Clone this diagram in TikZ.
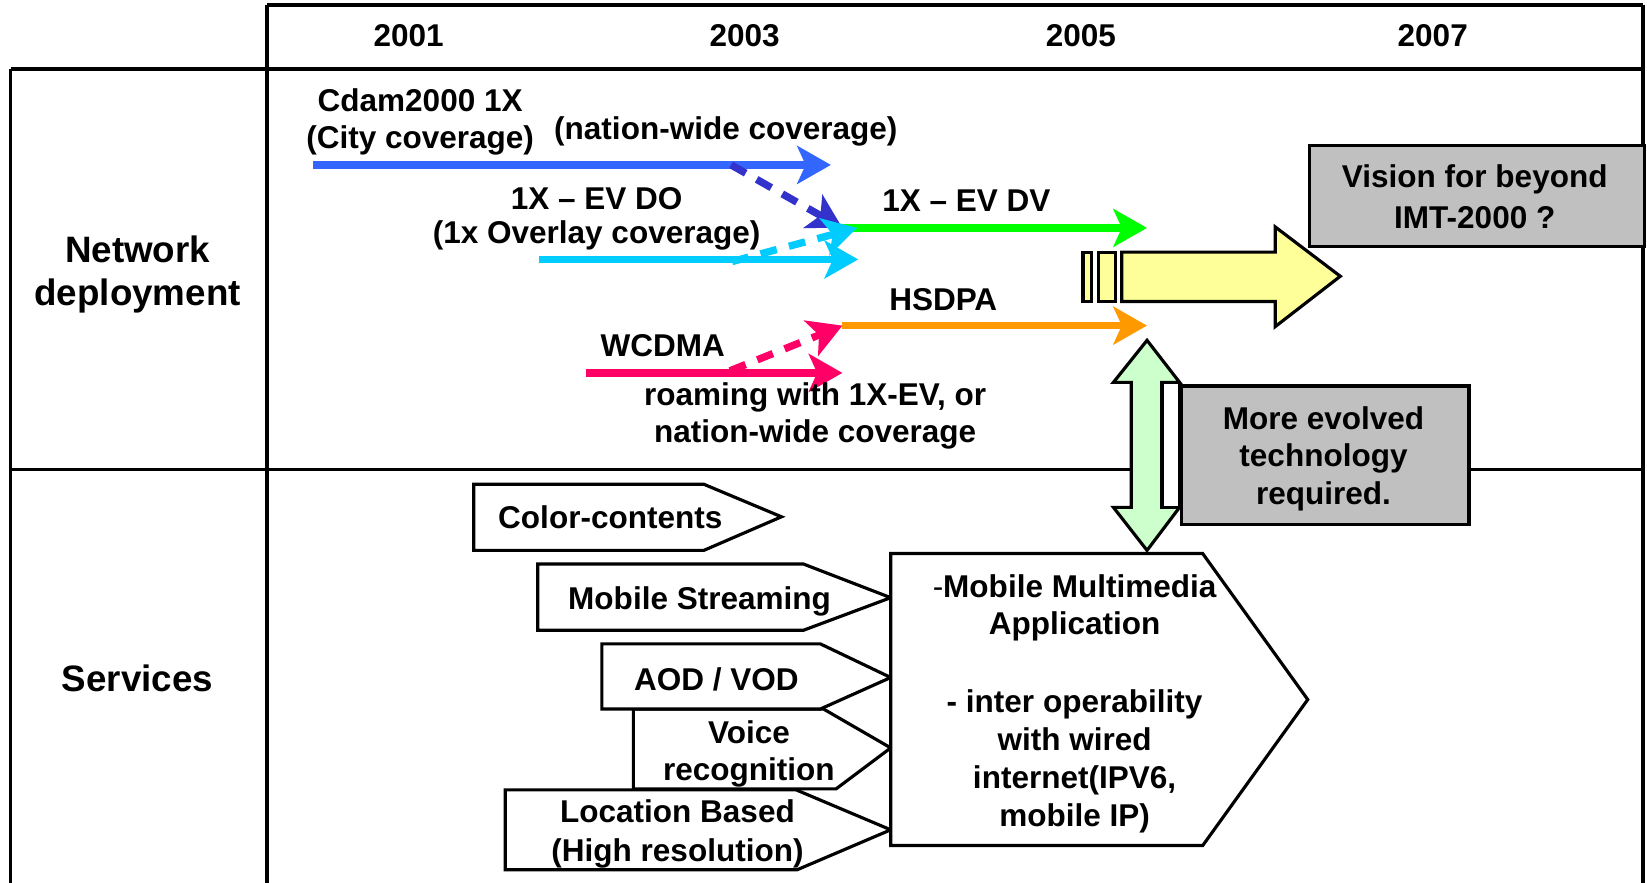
\documentclass[tikz,border=0pt]{standalone}
\usepackage{fontspec}
\setmainfont{Liberation Sans}
\usetikzlibrary{arrows.meta}
\definecolor{cblue}{HTML}{3366FF}
\definecolor{cdblue}{HTML}{3333CC}
\definecolor{ccyan}{HTML}{00CCFF}
\definecolor{cgreen}{HTML}{00FF00}
\definecolor{corange}{HTML}{FF9900}
\definecolor{cpink}{HTML}{FF0066}
\definecolor{cyellow}{HTML}{FFFF99}
\definecolor{cmint}{HTML}{CCFFCC}
\definecolor{cgray}{HTML}{C0C0C0}
\tikzset{
  lbl/.style={font=\fontsize{30}{35}\selectfont\bfseries, align=center, inner sep=0pt, anchor=base},
  hdr/.style={font=\fontsize{35}{41}\selectfont\bfseries, align=center, inner sep=0pt, anchor=base},
  grid/.style={line width=3.5pt, black},
  trk/.style={line width=7pt, -{Stealth[length=32pt,width=36pt,inset=8pt]}},
  dsh/.style={trk, dash pattern=on 16pt off 12pt},
  box/.style={draw=black, line width=3pt, line join=miter},
}
\begin{document}
\begin{tikzpicture}[x=1pt,y=-1pt]
\useasboundingbox (0,0) rectangle (1568,840);

% ---- table frame ----
\draw[grid] (254,5) -- (1564,5);
\draw[grid] (10,66) -- (1564,66);
\draw[grid] (10,447) -- (1564,447);
\draw[grid] (10,66) -- (10,842);
\draw[grid] (254,5) -- (254,842);
\draw[grid] (1564,5) -- (1564,842);

% ---- header and row titles (multi-line nodes sit on their last baseline) ----
\node[lbl] (y2001) at (389,44.5) {2001};
\node[lbl] (y2003) at (709,44.5) {2003};
\node[lbl] (y2005) at (1029,44.5) {2005};
\node[lbl] (y2007) at (1364,44.5) {2007};
\node[hdr] (rownet) at (131,290.5) {Network\\deployment};
\node[hdr] (rowsvc) at (131,658.5) {Services};

% ---- network deployment tracks ----
\coordinate (cdmaS) at (298,157);  \coordinate (cdmaE) at (791,157);
\coordinate (cdmaB) at (696,157);
\coordinate (dvS)   at (802,217);  \coordinate (dvE)   at (1092,217);
\coordinate (doS)   at (513,247);  \coordinate (doE)   at (817,247);
\coordinate (doB)   at (697,249);  \coordinate (dvIn)  at (816,217);
\coordinate (hsS)   at (802,310);  \coordinate (hsE)   at (1092,310);
\coordinate (wcS)   at (558,355);  \coordinate (wcE)   at (802,355);
\coordinate (wcB)   at (695,353);

\draw[trk, cblue] (cdmaS) -- (cdmaE);
\draw[trk, ccyan] (doS) -- (doE);
\draw[trk, cpink] (wcS) -- (wcE);
\draw[trk, cgreen] (dvS) -- (dvE);
\draw[trk, corange] (hsS) -- (hsE);
\draw[dsh, cdblue] (cdmaB) -- (dvS);
\draw[dsh, ccyan] (doB) -- (dvIn);
\draw[dsh, cpink] (wcB) -- (hsS);

\node[lbl] (tcdma) at (400,141.5) {Cdam2000 1X\\(City coverage)};
\node[lbl] (tnation) at (691,132.5) {(nation-wide coverage)};
\node[lbl, font=\fontsize{30}{32}\selectfont\bfseries] (tdo) at (568,231.5) {1X – EV DO\\(1x Overlay coverage)};
\node[lbl] (tdv) at (920,201.5) {1X – EV DV};
\node[lbl] (ths) at (898,295.5) {HSDPA};
\node[lbl] (twc) at (631,339.5) {WCDMA};
\node[lbl] (troam) at (776,421.5) {roaming with 1X-EV, or\\nation-wide coverage};

% ---- evolution arrow ----
\draw[box, fill=cyellow] (1031,240) rectangle (1039,287);
\draw[box, fill=cyellow] (1046,240) rectangle (1062,287);
\draw[box, fill=cyellow] (1068,240) -- (1214,240) -- (1214,216) -- (1276,263)
  -- (1214,311) -- (1214,287) -- (1068,287) -- cycle;

\node[box, fill=cgray, minimum width=319pt, minimum height=96pt, anchor=north west, inner sep=0pt]
  (vision) at (1245,137) {};
\node[lbl] (tvision) at (1404,217.5) {Vision for beyond\\[4pt]IMT-2000 ?};

% ---- double arrow and requirement box ----
\draw[box, fill=cmint] (1092,324) -- (1123,364) -- (1106,364) -- (1106,483) -- (1123,483)
  -- (1092,524) -- (1060,483) -- (1077,483) -- (1077,364) -- (1060,364) -- cycle;
\draw[box, fill=white] (1107,364) rectangle (1123,483);
\node[box, fill=cgray, minimum width=274pt, minimum height=132pt, anchor=north west, inner sep=0pt]
  (req) at (1123,366) {};
\node[lbl, font=\fontsize{30}{36}\selectfont\bfseries] (treq) at (1260,480.5) {More evolved\\technology\\required.};

% ---- services ----
\draw[box, fill=white] (451,461) -- (670,461) -- (744,492) -- (670,524) -- (451,524) -- cycle;
\draw[box, fill=white] (512,537) -- (765,537) -- (848,569) -- (765,600) -- (512,600) -- cycle;
\draw[box, fill=white] (603,675) -- (784,675) -- (848,712) -- (796,751) -- (603,751) -- cycle;
\draw[box, fill=white] (573,613) -- (781,613) -- (848,645) -- (781,675) -- (573,675) -- cycle;
\draw[box, fill=white] (481,752) -- (758,752) -- (848,790) -- (759,828) -- (481,828) -- cycle;
\draw[box, fill=white] (848,527) -- (1145,527) -- (1245,666) -- (1145,805) -- (848,805) -- cycle;

\node[lbl] (tcolor) at (581,503.5) {Color-contents};
\node[lbl] (tstream) at (666,580.5) {Mobile Streaming};
\node[lbl] (taod) at (682,657.5) {AOD / VOD};
\node[lbl, font=\fontsize{30}{36}\selectfont\bfseries] (tvoice) at (713,743.5) {Voice\\recognition};
\node[lbl, font=\fontsize{30}{37}\selectfont\bfseries] (tloc) at (645,820.5) {Location Based\\(High resolution)};
\node[lbl, font=\fontsize{30}{36}\selectfont\bfseries] (tmm) at (1023,786.5)
  {{\mdseries-}Mobile Multimedia\\Application\\[38pt]- inter operability\\with wired\\internet(IPV6,\\mobile IP)};
\end{tikzpicture}
\end{document}
